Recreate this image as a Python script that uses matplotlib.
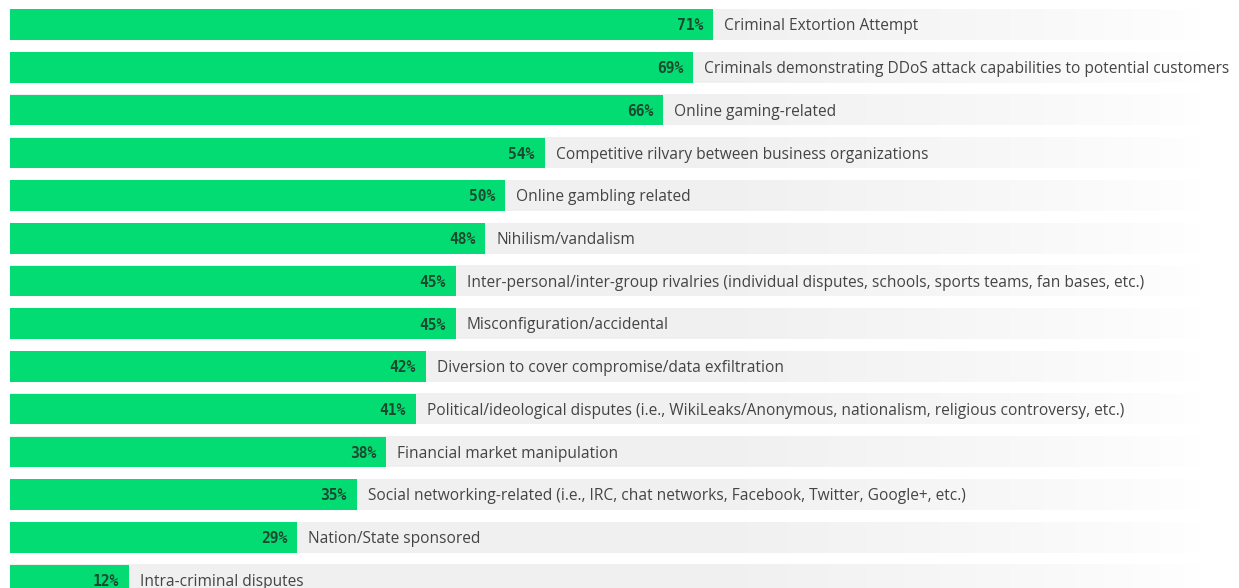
import numpy as np
from matplotlib import pyplot as plt

# Motivations behind DDoS attacks (share of respondents)
categorias = [
    "Criminal Extortion Attempt",
    "Criminals demonstrating DDoS attack capabilities to potential customers",
    "Online gaming-related",
    "Competitive rilvary between business organizations",
    "Online gambling related",
    "Nihilism/vandalism",
    "Inter-personal/inter-group rivalries (individual disputes, schools, sports teams, fan bases, etc.)",
    "Misconfiguration/accidental",
    "Diversion to cover compromise/data exfiltration",
    "Political/ideological disputes (i.e., WikiLeaks/Anonymous, nationalism, religious controversy, etc.)",
    "Financial market manipulation",
    "Social networking-related (i.e., IRC, chat networks, Facebook, Twitter, Google+, etc.)",
    "Nation/State sponsored",
    "Intra-criminal disputes",
]
porcentajes = [71, 69, 66, 54, 50, 48, 45, 45, 42, 41, 38, 35, 29, 12]

verde = "#03dc73"
texto_pct = "#1c4a30"
texto_cat = "#444444"

ancho_px, alto_px = 1239, 588
px_por_pct = 9.9          # escala horizontal
x0_px = 10                # donde empieza el 0%
y0_px, paso_px = 24.7, 42.72
alto_barra = 30.5 / paso_px

fig = plt.figure(figsize=(ancho_px / 100, alto_px / 100), dpi=100)
ax = fig.add_axes([0, 0, 1, 1])
ax.set_xlim(-x0_px / px_por_pct, (ancho_px - x0_px) / px_por_pct)
ax.set_ylim((alto_px - y0_px) / paso_px, -y0_px / paso_px)
ax.axis("off")

y = np.arange(len(categorias))
x_max = (ancho_px - x0_px) / px_por_pct

# Fondo gris que se desvanece hacia la derecha
grad = np.linspace(0, 1, 400)
alpha = np.clip((0.97 - grad) / 0.4, 0, 1) ** 0.8
rgba = np.zeros((1, grad.size, 4))
rgba[..., :3] = 0.945
rgba[0, :, 3] = alpha
for yi in y:
    ax.imshow(rgba, extent=(0, x_max, yi + alto_barra / 2, yi - alto_barra / 2),
              aspect="auto", interpolation="bilinear", zorder=1)

ax.barh(y, porcentajes, height=alto_barra, color=verde, zorder=2)

for yi, v, cat in zip(y, porcentajes, categorias):
    ax.text(v - 10 / px_por_pct, yi + 0.03, f"{v}%", ha="right", va="center",
            family="DejaVu Sans Mono", fontweight="bold", fontsize=10.5,
            color=texto_pct, zorder=3)
    ax.text(v + 11 / px_por_pct, yi + 0.04, cat, ha="left", va="center",
            family="Open Sans", fontsize=11.2, color=texto_cat, zorder=3)

fig.savefig("out.png", dpi=100)
